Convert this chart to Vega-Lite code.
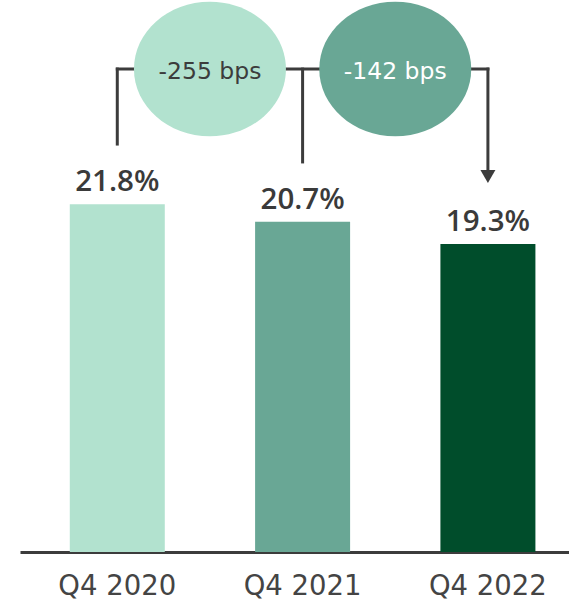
{
  "$schema": "https://vega.github.io/schema/vega-lite/v6.json",
  "width": 549,
  "height": 552,
  "autosize": {"type": "none"},
  "padding": {"left": 20, "top": 0, "right": 0, "bottom": 53},
  "background": "white",
  "config": {"view": {"stroke": null}},
  "datasets": {
    "bars": [
      {"quarter": "Q4 2020", "pos": 0, "value": 0.218},
      {"quarter": "Q4 2021", "pos": 1, "value": 0.207},
      {"quarter": "Q4 2022", "pos": 2, "value": 0.193}
    ],
    "changes": [
      {"quarter": "Q4 2020", "pos": 0.5, "value": 0.3027, "label": "-255 bps"},
      {"quarter": "Q4 2021", "pos": 1.5, "value": 0.3027, "label": "-142 bps"}
    ],
    "connectors": [
      {"pos": 0, "pos2": 2, "value": 0.3027, "value2": 0.3027},
      {"pos": 0, "pos2": 0, "value": 0.2557, "value2": 0.3027},
      {"pos": 1, "pos2": 1, "value": 0.2445, "value2": 0.3027},
      {"pos": 2, "pos2": 2, "value": 0.2354, "value2": 0.3027}
    ],
    "arrow": [{"pos": 2, "value": 0.2354}]
  },
  "encoding": {
    "x": {
      "field": "pos",
      "type": "quantitative",
      "scale": {"type": "linear", "domain": [-0.498, 2.4106], "nice": false, "zero": false},
      "axis": {"labels": false, "ticks": false, "grid": false, "domain": true, "domainColor": "#3c3c3c", "domainWidth": 3, "title": null}
    },
    "y": {
      "field": "value",
      "type": "quantitative",
      "scale": {"domain": [0, 0.346], "nice": false, "zero": true},
      "axis": null
    }
  },
  "layer": [
    {
      "data": {"name": "connectors"},
      "mark": {"type": "rule", "color": "#3c3c3c", "strokeWidth": 3, "strokeCap": "square"},
      "encoding": {
        "x2": {"field": "pos2"},
        "y2": {"field": "value2"}
      }
    },
    {
      "data": {"name": "bars"},
      "mark": {"type": "bar", "width": 95},
      "encoding": {
        "color": {
          "field": "quarter",
          "type": "nominal",
          "scale": {"domain": ["Q4 2020", "Q4 2021", "Q4 2022"], "range": ["#b2e2cf", "#69a795", "#004d2b"]},
          "legend": null
        }
      }
    },
    {
      "data": {"name": "bars"},
      "mark": {"type": "text", "baseline": "alphabetic", "align": "center", "dy": -13, "font": "Open Sans", "fontSize": 29.5, "fontWeight": 600, "color": "#3a3a3a"},
      "encoding": {
        "text": {"field": "value", "type": "quantitative", "format": ".1%"}
      }
    },
    {
      "data": {"name": "bars"},
      "mark": {"type": "text", "baseline": "alphabetic", "align": "center", "dy": 43, "font": "DejaVu Sans", "fontSize": 27.5, "color": "#444444"},
      "encoding": {
        "y": {"datum": 0},
        "text": {"field": "quarter", "type": "nominal"}
      }
    },
    {
      "data": {"name": "changes"},
      "mark": {"type": "point", "filled": true, "opacity": 1, "size": 23104, "shape": "M-1,0A1,0.885,0,1,1,1,0A1,0.885,0,1,1,-1,0Z"},
      "encoding": {
        "color": {"field": "quarter", "type": "nominal", "legend": null}
      }
    },
    {
      "data": {"name": "changes"},
      "mark": {"type": "text", "baseline": "alphabetic", "align": "center", "dy": 10, "font": "DejaVu Sans", "fontSize": 23.5},
      "encoding": {
        "text": {"field": "label", "type": "nominal"},
        "color": {"condition": {"test": "datum.quarter === 'Q4 2021'", "value": "#ffffff"}, "value": "#3c3c3c"}
      }
    },
    {
      "data": {"name": "arrow"},
      "mark": {"type": "point", "shape": "triangle-down", "filled": true, "opacity": 1, "size": 225, "color": "#3c3c3c"}
    }
  ]
}
